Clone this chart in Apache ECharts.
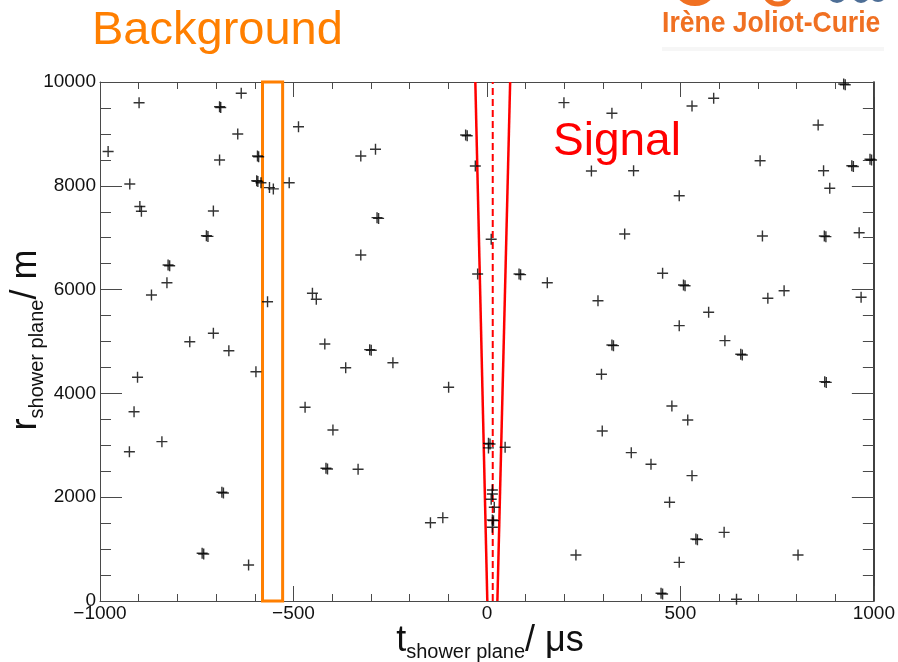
<!DOCTYPE html>
<html>
<head>
<meta charset="utf-8">
<script src="https://cdn.jsdelivr.net/npm/echarts@6/dist/echarts.min.js"></script>
<style>
  html, body { margin: 0; padding: 0; background: #fff; }
  #chart { width: 898px; height: 662px; }
</style>
</head>
<body>
<div id="chart"></div>
<script>
// Detector hits: [t in µs, r in m] in the shower plane
const hits = [
  [-979, 8660], [-899, 9600], [-923, 8035], [-897, 7600], [-893, 7510],
  [-824, 6474], [-827, 6133], [-867, 5896], [-691, 9524], [-635, 9782],
  [-644, 8998], [-691, 8497], [-593, 8574], [-595, 8098], [-584, 8060],
  [-562, 7965], [-552, 7940], [-511, 8060], [-487, 9139], [-707, 7515],
  [-725, 7039], [-567, 5767], [-451, 5929], [-441, 5813], [-326, 8574],
  [-288, 8703], [-284, 7386], [-326, 6667], [-707, 5158], [-768, 4996],
  [-667, 4823], [-597, 4418], [-903, 4310], [-912, 3647], [-924, 2877],
  [-840, 3070], [-685, 2094], [-736, 919], [-616, 694], [-470, 3732],
  [-419, 4952], [-365, 4495], [-303, 4843], [-398, 3295], [-416, 2557],
  [-333, 2538], [-243, 4592], [-99, 4118], [-146, 1509], [-114, 1606],
  [-55, 8979], [-30, 8382], [11, 6969], [-24, 6301], [83, 6301],
  [156, 6133], [4, 3038], [47, 2961],
  [14, 2139], [14, 2062], [11, 1960], [19, 1805], [14, 1561], [17, 1548], [14, 1420],
  [199, 9602], [323, 9397], [270, 8285], [379, 8291], [356, 7071],
  [287, 5786], [454, 6314], [530, 9538], [586, 9686], [922, 9961],
  [856, 9171], [706, 8484], [870, 8291], [943, 8387], [990, 8511],
  [886, 7952], [497, 7809], [712, 7033], [872, 7033], [962, 7096],
  [508, 6089], [726, 5833], [768, 5979], [573, 5563], [497, 5305],
  [967, 5852], [615, 5016], [656, 4753], [873, 4226], [478, 3757],
  [519, 3488], [424, 2634], [530, 2415], [472, 1902], [540, 1195],
  [613, 1323], [497, 745], [804, 886], [450, 148], [645, 33],
  [323, 4933], [296, 4368], [298, 3276], [373, 2858], [230, 886]
];

// Hits recorded twice in the same spot (slightly offset second entry)
const repeatedHits = [
  [-820, 6460], [-688, 9510], [-590, 8560], [-592, 8085], [-721, 7025],
  [-280, 7372], [-681, 2080], [-732, 905], [-299, 4830], [-412, 2543],
  [-51, 8965], [4, 2950], [87, 6288], [8, 3025], [926, 9948], [947, 8373],
  [994, 8498], [876, 7020], [512, 6075], [660, 4740], [877, 4212],
  [544, 1182], [454, 135], [327, 4920]
];

// Signal time window edges and its centre line [t, r]
const coneLower = [[1, 0], [-30, 10000]];
const coneUpper = [[27, 0], [60, 10000]];
const coneCentre = [[15, 0], [15, 10000]];

// Background sampling window in t
const backgroundWindow = [-580, -528];

// Axis ranges and tick spacing
const tRange = [-1000, 1000];
const tStep = 500;
const rRange = [0, 10000];
const rStep = 2000;

const chart = echarts.init(document.getElementById('chart'), null, { renderer: 'canvas' });

const FONT = '"Liberation Sans", Arial, Helvetica, sans-serif';
const crossPath = 'path://M0,5L10,5M5,0L5,10';

function minusFmt(v) {
  return v < 0 ? '\u2212' + Math.abs(v) : String(v);
}

function xAxisCfg(pos, showLabels) {
  return {
    type: 'value', position: pos, min: tRange[0], max: tRange[1], interval: tStep,
    axisLine: { show: true, onZero: false, lineStyle: { color: '#4a4a4a', width: 1 } },
    axisTick: { show: true, inside: true, length: 15, lineStyle: { color: '#4a4a4a', width: 1 } },
    minorTick: { show: true, splitNumber: 5, length: 7, lineStyle: { color: '#4a4a4a', width: 1 } },
    axisLabel: { show: showLabels, fontSize: 19, color: '#111', fontFamily: FONT, margin: 3, formatter: minusFmt },
    splitLine: { show: false }
  };
}

function yAxisCfg(pos, showLabels, lineColor, lineWidth) {
  return {
    type: 'value', position: pos, min: rRange[0], max: rRange[1], interval: rStep,
    axisLine: { show: true, onZero: false, lineStyle: { color: lineColor, width: lineWidth } },
    axisTick: { show: true, inside: true, length: 22, lineStyle: { color: '#4a4a4a', width: 1 } },
    minorTick: { show: true, splitNumber: 4, length: 11, lineStyle: { color: '#4a4a4a', width: 1 } },
    axisLabel: { show: showLabels, fontSize: 19, color: '#111', fontFamily: FONT, margin: 4, formatter: minusFmt },
    splitLine: { show: false }
  };
}

const crossStyle = { color: 'rgba(0,0,0,0)', borderColor: '#000', borderWidth: 1.4 };

const titleRich = {
  a: { fontSize: 36, fontFamily: FONT, fill: '#111', color: '#111', verticalAlign: 'bottom', padding: [0, 0, 3, 0] },
  b: { fontSize: 20, fontFamily: FONT, fill: '#111', color: '#111', verticalAlign: 'bottom' }
};

const option = {
  animation: false,
  backgroundColor: '#fff',
  grid: { left: 100, right: 21, top: 82, bottom: 61, containLabel: false },
  xAxis: [xAxisCfg('bottom', true), xAxisCfg('top', false)],
  yAxis: [yAxisCfg('left', true, '#4a4a4a', 1), yAxisCfg('right', false, '#111', 1.6)],
  series: [
    {
      type: 'scatter', data: hits, symbol: crossPath, symbolSize: 11,
      itemStyle: crossStyle, silent: true, z: 5,
      markArea: {
        silent: true,
        itemStyle: { color: 'rgba(0,0,0,0)', borderColor: '#ff7f00', borderWidth: 3 },
        data: [[{ coord: [backgroundWindow[0], rRange[0]] }, { coord: [backgroundWindow[1], rRange[1]] }]]
      }
    },
    {
      type: 'scatter', data: repeatedHits, symbol: crossPath, symbolSize: 11,
      itemStyle: crossStyle, silent: true, z: 5
    },
    {
      type: 'line', data: coneLower, symbol: 'none', silent: true, z: 4,
      lineStyle: { color: '#ff0000', width: 2.5 }
    },
    {
      type: 'line', data: coneUpper, symbol: 'none', silent: true, z: 4,
      lineStyle: { color: '#ff0000', width: 2.5 }
    },
    {
      type: 'line', data: coneCentre, symbol: 'none', silent: true, z: 4,
      lineStyle: { color: '#ff0000', width: 2, type: [7, 4] }
    }
  ],
  graphic: [
    {
      type: 'text', x: 92, y: 31, silent: true,
      style: { text: 'Background', fill: '#ff7f00', font: '47px ' + FONT, textAlign: 'left', textVerticalAlign: 'middle' }
    },
    {
      type: 'text', x: 553, y: 142, silent: true, z: 10,
      style: { text: 'Signal', fill: '#ff0000', font: '46px ' + FONT, textAlign: 'left', textVerticalAlign: 'middle' }
    },
    // lab logo, top right
    { type: 'circle', silent: true, shape: { cx: 695, cy: -17, r: 20 }, style: { fill: 'none', stroke: '#f07022', lineWidth: 6 } },
    { type: 'circle', silent: true, shape: { cx: 778, cy: -10, r: 14 }, style: { fill: 'none', stroke: '#f07022', lineWidth: 5 } },
    { type: 'circle', silent: true, shape: { cx: 837, cy: -7, r: 10 }, style: { fill: '#4d6e96' } },
    { type: 'circle', silent: true, shape: { cx: 861, cy: -6, r: 9 }, style: { fill: '#4d6e96' } },
    { type: 'circle', silent: true, shape: { cx: 878, cy: -7, r: 9 }, style: { fill: '#4d6e96' } },
    {
      type: 'text', x: 662, y: 24, scaleX: 0.885, silent: true,
      style: { text: 'Irène Joliot-Curie', fill: '#f07022', font: 'bold 30px ' + FONT, textAlign: 'left', textVerticalAlign: 'middle' }
    },
    { type: 'rect', silent: true, shape: { x: 662, y: 47, width: 222, height: 4 }, style: { fill: '#f6f6f6' } },
    // axis titles
    {
      type: 'text', x: 490, y: 643, silent: true,
      style: { text: '{a|t}{b|shower plane}{a|/ \u03bcs}', textAlign: 'center', textVerticalAlign: 'middle', rich: titleRich }
    },
    {
      type: 'text', x: 28, y: 340, rotation: Math.PI / 2, silent: true,
      style: { text: '{a|r}{b|shower plane}{a|/ m}', textAlign: 'center', textVerticalAlign: 'middle', rich: titleRich }
    }
  ]
};

chart.setOption(option);
</script>
</body>
</html>
